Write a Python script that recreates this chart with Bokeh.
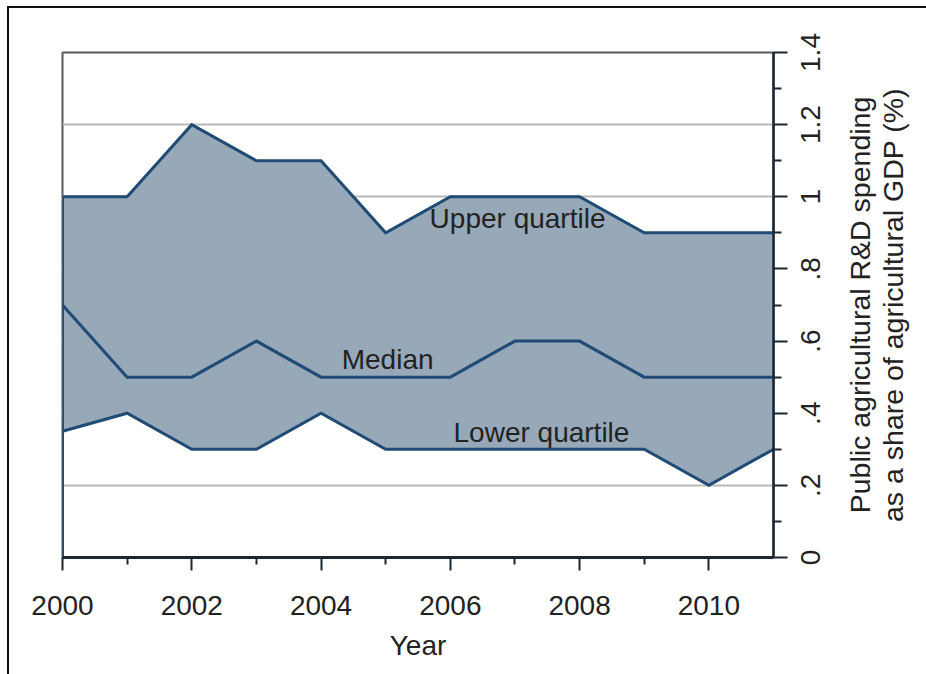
import math
from bokeh.plotting import figure
from bokeh.layouts import row
from bokeh.models import Range1d, FixedTicker, Label, ColumnDataSource, CustomLabelingPolicy
from bokeh.core.properties import value
from bokeh.embed import file_html
from bokeh.resources import INLINE

years = [2000, 2001, 2002, 2003, 2004, 2005, 2006, 2007, 2008, 2009, 2010, 2011]
upper = [1.0, 1.0, 1.2, 1.1, 1.1, 0.9, 1.0, 1.0, 1.0, 0.9, 0.9, 0.9]
median = [0.7, 0.5, 0.5, 0.6, 0.5, 0.5, 0.5, 0.6, 0.6, 0.5, 0.5, 0.5]
lower = [0.35, 0.4, 0.3, 0.3, 0.4, 0.3, 0.3, 0.3, 0.3, 0.3, 0.2, 0.3]

x_ticks = [2000, 2002, 2004, 2006, 2008, 2010]
x_minor = [2001, 2003, 2005, 2007, 2009]
y_ticks = [0, 0.2, 0.4, 0.6, 0.8, 1.0, 1.2, 1.4]
y_tick_labels = ["0", ".2", ".4", ".6", ".8", "1", "1.2", "1.4"]
y_minor = [0.1, 0.3, 0.5, 0.7, 0.9, 1.1, 1.3]

series_labels = ["Upper quartile", "Median", "Lower quartile"]
label_x = [2007.04, 2005.03, 2007.41]
label_y = [0.941, 0.548, 0.347]

y_title = "Public agricultural R&D spending\nas a share of agricultural GDP (%)"

FONT = "Liberation Sans"
LINE = "#1f4b74"
FILL = "#97a8b9"
TXT = "#222222"
AX = "#1b2633"

W, H = 926, 674
FRAME_L, FRAME_R, FRAME_T, FRAME_B = 62, 773, 52, 557
P_W = 790
Y0, Y1 = 0.0, 1.4

src = ColumnDataSource(dict(x=years, upper=upper, median=median, lower=lower))

p = figure(width=P_W, height=H, output_backend="svg", toolbar_location=None,
           x_range=Range1d(2000, 2011), y_range=Range1d(Y0, Y1),
           y_axis_location="right",
           min_border_left=FRAME_L, min_border_right=P_W - FRAME_R,
           min_border_top=FRAME_T, min_border_bottom=H - FRAME_B)
p.frame_align = False

p.background_fill_color = "white"
p.border_fill_color = None
p.outline_line_color = "#5a5a5a"
p.outline_line_width = 2

# grid
p.xgrid.visible = False
p.ygrid.ticker = FixedTicker(ticks=y_ticks)
p.ygrid.grid_line_color = "#b9b9b9"
p.ygrid.grid_line_width = 2

# band and lines
p.varea(x="x", y1="lower", y2="upper", source=src, fill_color=FILL, fill_alpha=1.0)
p.segment(x0=[years[0]], y0=[0], x1=[years[0]], y1=[upper[0]], line_color=LINE, line_width=3)
for col in ["upper", "median", "lower"]:
    p.line(x="x", y=col, source=src, line_color=LINE, line_width=3, line_join="miter")

# x axis
xa = p.xaxis[0]
xa.ticker = FixedTicker(ticks=x_ticks, minor_ticks=x_minor)
xa.axis_label = "Year"
xa.axis_label_text_font = FONT
xa.axis_label_text_font_size = "28px"
xa.axis_label_text_font_style = "normal"
xa.axis_label_text_color = TXT
xa.axis_label_standoff = 12
xa.major_label_text_font = FONT
xa.major_label_text_font_size = "28px"
xa.major_label_text_color = TXT
xa.major_label_standoff = 25
xa.axis_line_color = AX
xa.axis_line_width = 3
xa.major_tick_line_color = AX
xa.major_tick_line_width = 2
xa.major_tick_out = 13
xa.major_tick_in = 0
xa.minor_tick_line_color = AX
xa.minor_tick_line_width = 2
xa.minor_tick_out = 7
xa.minor_tick_in = 0

# y axis (right): line and ticks only; its labels are drawn centred in the side panel
ya = p.yaxis[0]
ya.ticker = FixedTicker(ticks=y_ticks, minor_ticks=y_minor)
ya.major_label_policy = CustomLabelingPolicy(code="""
try { for (const i of Array.from(indices)) { indices.unset(i) } } catch (e) {}
return indices
""")
ya.major_label_text_font_size = "0px"
ya.major_label_standoff = 0
ya.axis_line_color = AX
ya.axis_line_width = 2.5
ya.major_tick_line_color = AX
ya.major_tick_line_width = 2
ya.major_tick_out = 14
ya.major_tick_in = 0
ya.minor_tick_line_color = AX
ya.minor_tick_line_width = 2
ya.minor_tick_out = 8
ya.minor_tick_in = 0

# in-plot series labels
for t, lx, ly in zip(series_labels, label_x, label_y):
    p.add_layout(Label(x=lx, y=ly, text=t, text_font=FONT, text_font_size="28px",
                       text_color=TXT, text_align="center", text_baseline="middle"))

# side panel whose full-height frame uses the same y scale as the main frame
side_w = W - P_W
per_px = (Y1 - Y0) / (FRAME_B - FRAME_T)
q = figure(width=side_w, height=H, output_backend="svg", toolbar_location=None,
           x_range=Range1d(0, side_w),
           y_range=Range1d(Y0 - (H - FRAME_B) * per_px, Y1 + FRAME_T * per_px),
           min_border=0, min_border_left=0, min_border_right=0,
           min_border_top=0, min_border_bottom=0)
q.frame_align = False
q.axis.visible = False
q.grid.visible = False
q.outline_line_color = None
q.background_fill_color = None
q.border_fill_color = None

# y tick labels, centred on their ticks, reading bottom to top
q.text(x=[20] * len(y_ticks), y=y_ticks, text=y_tick_labels, angle=math.pi / 2,
       text_font=value(FONT), text_font_size="28px", text_color=TXT,
       text_align="center", text_baseline="middle")

# right-hand axis title, reading bottom to top, centred on the axis
q.add_layout(Label(x=86, y=(Y0 + Y1) / 2, text=y_title, angle=math.pi / 2,
                   text_font=FONT, text_font_size="28.5px", text_color=TXT,
                   text_align="center", text_baseline="middle", text_line_height=1.05))

# thin dark page frame along the top and left edges, as in the reference picture
page_bg = ("linear-gradient(#111, #111) 7px 6px / calc(100% - 7px) 2px no-repeat, "
           "linear-gradient(#111, #111) 7px 6px / 2px calc(100% - 6px) no-repeat, #ffffff")

layout = row(p, q, spacing=0, styles={"background": page_bg})
open("out.html", "w").write(file_html(layout, INLINE))
